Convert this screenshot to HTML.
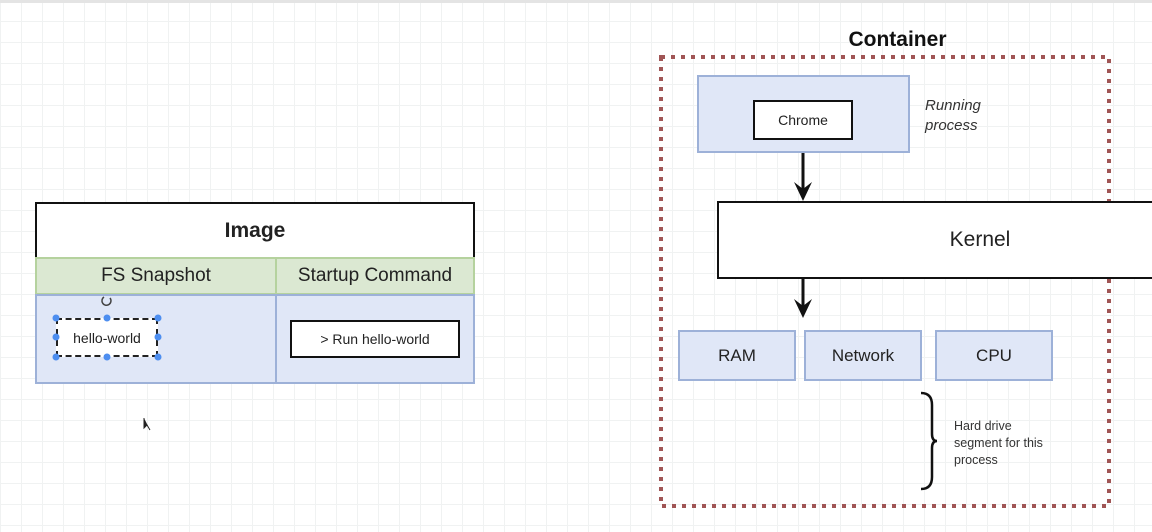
<!DOCTYPE html>
<html><head><style>
body{margin:0;width:1152px;height:532px;overflow:hidden;background:#fff;font-family:"Liberation Sans",sans-serif;}
.bg{position:absolute;left:0;top:0;width:1152px;height:532px;background-image:linear-gradient(#f0f2f2 1px,transparent 1px),linear-gradient(90deg,#f0f2f2 1px,transparent 1px);background-size:21px 21px;}
.a{position:absolute;box-sizing:border-box;display:flex;align-items:center;justify-content:center;color:#222;}
</style></head><body>
<div class="bg"></div>
<div style="position:absolute;left:0;top:0;width:1152px;height:3px;background:#e4e4e4"></div>
<!-- Image table -->
<div class="a" style="left:35px;top:202px;width:440px;height:56px;border:2px solid #111;border-bottom:none;background:#fff;font-weight:bold;font-size:21px;">Image</div>
<div class="a" style="left:35px;top:257px;width:242px;height:38px;border:2px solid #b5d29e;background:#dbe8d2;font-size:19px;">FS Snapshot</div>
<div class="a" style="left:275px;top:257px;width:200px;height:38px;border:2px solid #b5d29e;background:#dbe8d2;font-size:19px;">Startup Command</div>
<div class="a" style="left:35px;top:294px;width:242px;height:90px;border:2px solid #9db1d8;background:#e0e7f7;"></div>
<div class="a" style="left:275px;top:294px;width:200px;height:90px;border:2px solid #9db1d8;background:#e0e7f7;"></div>
<div class="a" style="left:56px;top:318px;width:102px;height:39px;border:2px dashed #222;background:#fff;font-size:14px;">hello-world</div>
<div class="a" style="left:290px;top:320px;width:170px;height:38px;border:2px solid #111;background:#fff;font-size:14px;">&gt; Run hello-world</div>
<svg style="position:absolute;left:0;top:0" width="1152" height="532">
<g fill="#4d8ef0"><circle cx="56" cy="318" r="3.5"/><circle cx="107" cy="318" r="3.5"/><circle cx="158" cy="318" r="3.5"/><circle cx="56" cy="337" r="3.5"/><circle cx="158" cy="337" r="3.5"/><circle cx="56" cy="357" r="3.5"/><circle cx="107" cy="357" r="3.5"/><circle cx="158" cy="357" r="3.5"/></g>
<path d="M110 298 A4.5 4.5 0 1 1 104 297" fill="none" stroke="#444" stroke-width="1.5"/>
<path d="M144 418 L144 428 L147 425 L150 430" fill="#222" stroke="#222" stroke-width="1"/>
<rect x="661" y="57" width="448" height="449" fill="none" stroke="#a05555" stroke-width="4" stroke-dasharray="4 6"/>
</svg>
<!-- Container -->
<div class="a" style="left:780px;top:26px;width:235px;height:28px;font-weight:bold;font-size:21px;color:#111">Container</div>
<div class="a" style="left:697px;top:75px;width:213px;height:78px;border:2px solid #9db1d8;background:#e0e7f7;"></div>
<div class="a" style="left:753px;top:100px;width:100px;height:40px;border:2px solid #111;background:#fff;font-size:14px;">Chrome</div>
<div style="position:absolute;left:925px;top:96px;font-style:italic;font-size:15px;line-height:20px;color:#333">Running<br>process</div>
<div class="a" style="left:717px;top:201px;width:526px;height:78px;border:2px solid #111;background:#fff;font-size:21px;">Kernel</div>
<svg style="position:absolute;left:0;top:0" width="1152" height="532">
<g stroke="#111" stroke-width="3" fill="none"><line x1="803" y1="153" x2="803" y2="195"/><line x1="803" y1="279" x2="803" y2="312"/></g>
<g fill="#111"><path d="M794 182 L803 201 L812 182 L803 189 Z"/><path d="M794 299 L803 318 L812 299 L803 306 Z"/></g>
<path d="M921 393 Q932 393 932 405 L932 434 Q932 441 937 441 Q932 441 932 448 L932 477 Q932 489 921 489" fill="none" stroke="#111" stroke-width="2.5"/>
</svg>
<div class="a" style="left:678px;top:330px;width:118px;height:51px;border:2px solid #9db1d8;background:#e0e7f7;font-size:17px;">RAM</div>
<div class="a" style="left:804px;top:330px;width:118px;height:51px;border:2px solid #9db1d8;background:#e0e7f7;font-size:17px;">Network</div>
<div class="a" style="left:935px;top:330px;width:118px;height:51px;border:2px solid #9db1d8;background:#e0e7f7;font-size:17px;">CPU</div>
<div style="position:absolute;left:954px;top:418px;font-size:12.5px;line-height:17px;color:#333">Hard drive<br>segment for this<br>process</div>
</body></html>
